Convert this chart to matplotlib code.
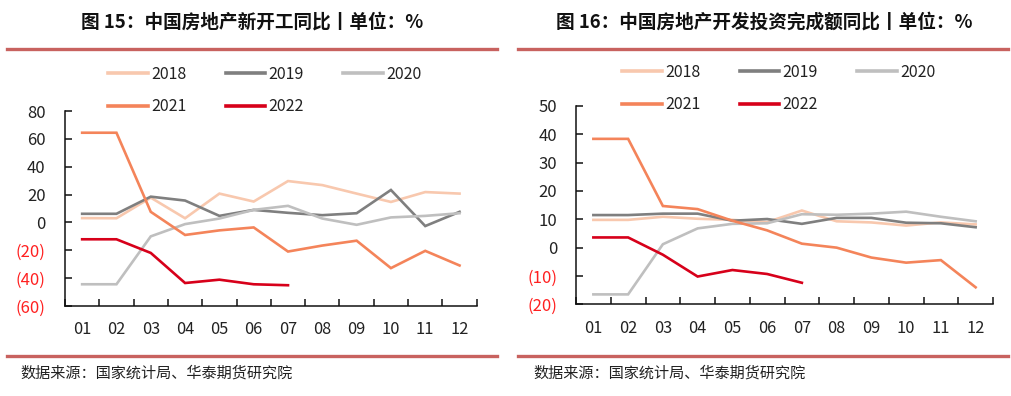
import matplotlib
matplotlib.use("Agg")
import matplotlib.pyplot as plt
from matplotlib.ticker import FuncFormatter, FixedLocator
from matplotlib.lines import Line2D

plt.rcParams['font.family'] = ['Noto Sans CJK SC', 'DejaVu Sans']

months = ['01', '02', '03', '04', '05', '06', '07', '08', '09', '10', '11', '12']
years = ['2018', '2019', '2020', '2021', '2022']

# Chart 1: new construction starts YoY (%)
starts_2018 = [3.1, 3.0, 17.8, 3.0, 20.7, 15.0, 29.7, 26.8, 20.7, 14.7, 21.8, 20.7]
starts_2019 = [6.2, 6.2, 18.5, 15.7, 4.7, 9.0, 6.9, 5.2, 6.6, 23.3, -2.6, 7.6]
starts_2020 = [-44.4, -44.4, -10.0, -1.2, 2.8, 9.0, 11.9, 2.8, -1.7, 3.6, 4.7, 6.6]
starts_2021 = [64.4, 64.4, 7.6, -9.0, -5.7, -3.6, -20.9, -16.6, -13.1, -32.8, -20.4, -30.9]
starts_2022 = [-12.1, -12.1, -21.9, -43.5, -41.1, -44.4, -45.1]

# Chart 2: development investment YoY (%)
invest_2018 = [9.8, 9.8, 10.9, 10.2, 9.8, 9.0, 13.1, 9.3, 8.9, 7.8, 8.9, 8.2]
invest_2019 = [11.5, 11.5, 12.0, 12.0, 9.5, 10.1, 8.4, 10.5, 10.5, 8.8, 8.6, 7.2]
invest_2020 = [-16.5, -16.5, 1.2, 6.8, 8.4, 8.6, 11.8, 11.6, 12.0, 12.7, 10.9, 9.3]
invest_2021 = [38.4, 38.4, 14.7, 13.6, 9.5, 6.1, 1.4, 0.0, -3.5, -5.3, -4.4, -14.0]
invest_2022 = [3.6, 3.6, -2.5, -10.2, -7.9, -9.3, -12.4]

colors = ['#F8C8AE', '#7F7F7F', '#BFBFBF', '#F4845A', '#D7001A']
title1 = '图 15：中国房地产新开工同比丨单位：%'
title2 = '图 16：中国房地产开发投资完成额同比丨单位：%'
source = '数据来源：国家统计局、华泰期货研究院'

fig = plt.figure(figsize=(10.11, 3.96), dpi=100)
W, H = 1011.0, 396.0

def fx(px):
    return px / W

def fy(py):
    return 1 - py / H

def fmt(v, pos):
    v = int(round(v))
    return f'({abs(v)})' if v < 0 else f'{v}'

def make_panel(rect, series, ylim, ystep, ypad, xpad, legend_xy):
    ax = fig.add_axes(rect)
    x = list(range(1, 13))
    lines = []
    for s, c, lab in zip(series, colors, years):
        ln, = ax.plot(x[:len(s)], s, color=c, lw=1.9, label=lab, solid_joinstyle='miter')
        lines.append(ln)
    ax.set_xlim(0.5, 12.5)
    ax.set_ylim(*ylim)
    for sp in ['top', 'right']:
        ax.spines[sp].set_visible(False)
    for sp in ['left', 'bottom']:
        ax.spines[sp].set_linewidth(1.1)
        ax.spines[sp].set_color('#111111')
    ax.xaxis.set_major_locator(FixedLocator([i + 0.5 for i in range(0, 13)]))
    ax.xaxis.set_minor_locator(FixedLocator(x))
    ax.set_xticklabels([], minor=False)
    ax.set_xticks(x, months, minor=True)
    ax.tick_params(axis='x', which='major', direction='in', length=5, width=1.1, color='#111111')
    ax.tick_params(axis='x', which='minor', length=0, pad=xpad, labelsize=11.8, labelcolor='#222222')
    yt = list(range(ylim[0], ylim[1] + 1, ystep))
    ax.set_yticks(yt)
    ax.yaxis.set_major_formatter(FuncFormatter(fmt))
    ax.tick_params(axis='y', direction='in', length=5, width=1.1, color='#111111', pad=ypad,
                   labelsize=12, labelcolor='#222222')
    for lab, v in zip(ax.get_yticklabels(), yt):
        if v < 0:
            lab.set_color('#FF2020')
    order = [0, 3, 1, 4, 2]
    leg = fig.legend([lines[i] for i in order], [years[i] for i in order], ncol=3,
                     loc='upper left', bbox_to_anchor=legend_xy, bbox_transform=fig.transFigure,
                     frameon=False, fontsize=11.5, handlelength=2.5, handletextpad=0.2,
                     columnspacing=2.45, labelspacing=0.95, borderpad=0, borderaxespad=0)
    for t in leg.get_texts():
        t.set_color('#222222')
    for h in leg.legend_handles:
        h.set_linewidth(2.6)
    return ax

make_panel([fx(65), fy(306), fx(476.7) - fx(65), fy(111) - fy(306)],
           [starts_2018, starts_2019, starts_2020, starts_2021, starts_2022],
           (-60, 80), 20, 14.0, 11.0, (fx(108), fy(66)))
make_panel([fx(576), fy(304.3), fx(993) - fx(576), fy(106) - fy(304.3)],
           [invest_2018, invest_2019, invest_2020, invest_2021, invest_2022],
           (-20, 50), 10, 13.5, 11.5, (fx(622), fy(64)))

rule_color = '#C8625F'
for x0, x1 in [(7, 497), (518, 1008)]:
    for yy in (49, 356):
        fig.add_artist(Line2D([fx(x0), fx(x1)], [fy(yy), fy(yy)], color=rule_color, lw=2.4,
                              transform=fig.transFigure))

fig.text(fx(252.5), fy(22), title1, ha='center', va='center', fontsize=13.4, fontweight='bold', color='#111111')
fig.text(fx(764), fy(22), title2, ha='center', va='center', fontsize=13.4, fontweight='bold', color='#111111')
fig.text(fx(20), fy(373), source, ha='left', va='center', fontsize=10.9, color='#222222')
fig.text(fx(533), fy(373), source, ha='left', va='center', fontsize=10.9, color='#222222')

fig.savefig('out.png', dpi=100, facecolor='white')
